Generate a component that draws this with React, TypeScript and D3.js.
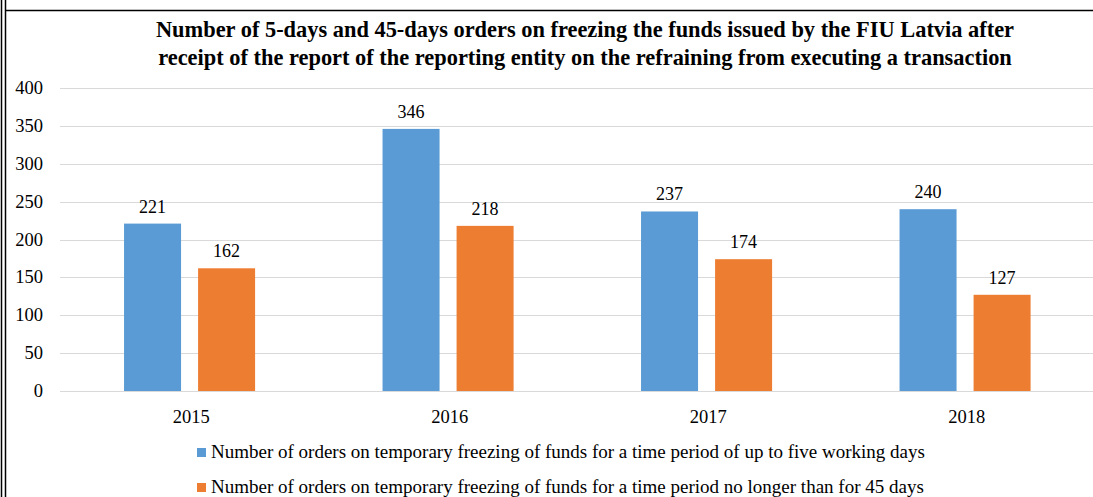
import React from 'react';
import * as d3 from 'd3';

const years = ['2015', '2016', '2017', '2018'];
const fiveDays = [221, 346, 237, 240];
const fortyFiveDays = [162, 218, 174, 127];
const yTicks = [0, 50, 100, 150, 200, 250, 300, 350, 400];
const seriesNames = [
    'Number of orders on temporary freezing of funds for a time period of up to five working days',
    'Number of orders on temporary freezing of funds for a time period no longer than for 45 days'
];
const colors = ['#5B9BD5', '#ED7D31'];
const titleLines = [
    'Number of 5-days and 45-days orders on freezing the funds issued by the FIU Latvia after',
    'receipt of the report of the reporting entity on the refraining from executing a transaction'
];

const W = 1093;
const H = 497;
const font = "'Liberation Serif', 'Times New Roman', Times, serif";

export default function App() {
    const x = d3.scaleBand<string>().domain(years).range([62, 1096]);
    const y = d3.scaleLinear().domain([0, 400]).range([391, 88]);
    const bw = x.bandwidth();
    const inner = d3.scaleBand<number>().domain([0, 1]).range([bw * 0.24, bw * 0.747]).paddingInner(0.23);
    const series = [fiveDays, fortyFiveDays];

    return (
        <svg width={W} height={H} style={{ position: 'absolute', left: 0, top: 0, background: '#fff', fontFamily: font }}>
            {/* frame */}
            <line x1={1.5} x2={1.5} y1={0} y2={H} stroke="#000" strokeWidth={1.5} />
            <line x1={5.5} x2={5.5} y1={0} y2={H} stroke="#000" strokeWidth={1.5} />
            <line x1={5} x2={W} y1={10.5} y2={10.5} stroke="#000" strokeWidth={1.5} />

            {titleLines.map((t, i) => (
                <text key={i} x={585} y={37 + i * 28} textAnchor="middle" fontWeight="bold" fontSize={22.4} fill="#000">{t}</text>
            ))}

            {yTicks.map(t => (
                <g key={t}>
                    <line x1={60} x2={W} y1={Math.round(y(t)) + 0.5} y2={Math.round(y(t)) + 0.5} stroke="#d9d9d9" />
                    <text x={43} y={y(t) + 6} textAnchor="end" fontSize={18.5} fill="#000">{t}</text>
                </g>
            ))}

            {years.map((yr, i) => (
                <g key={yr}>
                    {series.map((s, j) => {
                        const bx = (x(yr) ?? 0) + (inner(j) ?? 0);
                        return (
                            <g key={j}>
                                <rect x={bx} y={y(s[i])} width={inner.bandwidth()} height={y(0) - y(s[i])} fill={colors[j]} />
                                <text x={bx + inner.bandwidth() / 2} y={y(s[i]) - 11} textAnchor="middle" fontSize={18} fill="#000">{s[i]}</text>
                            </g>
                        );
                    })}
                    <text x={(x(yr) ?? 0) + bw / 2} y={423} textAnchor="middle" fontSize={18.5} fill="#000">{yr}</text>
                </g>
            ))}

            {seriesNames.map((n, i) => (
                <g key={i}>
                    <rect x={197} y={448 + i * 35} width={9} height={9} fill={colors[i]} />
                    <text x={211} y={458 + i * 35} fontSize={19} fill="#000">{n}</text>
                </g>
            ))}
        </svg>
    );
}
